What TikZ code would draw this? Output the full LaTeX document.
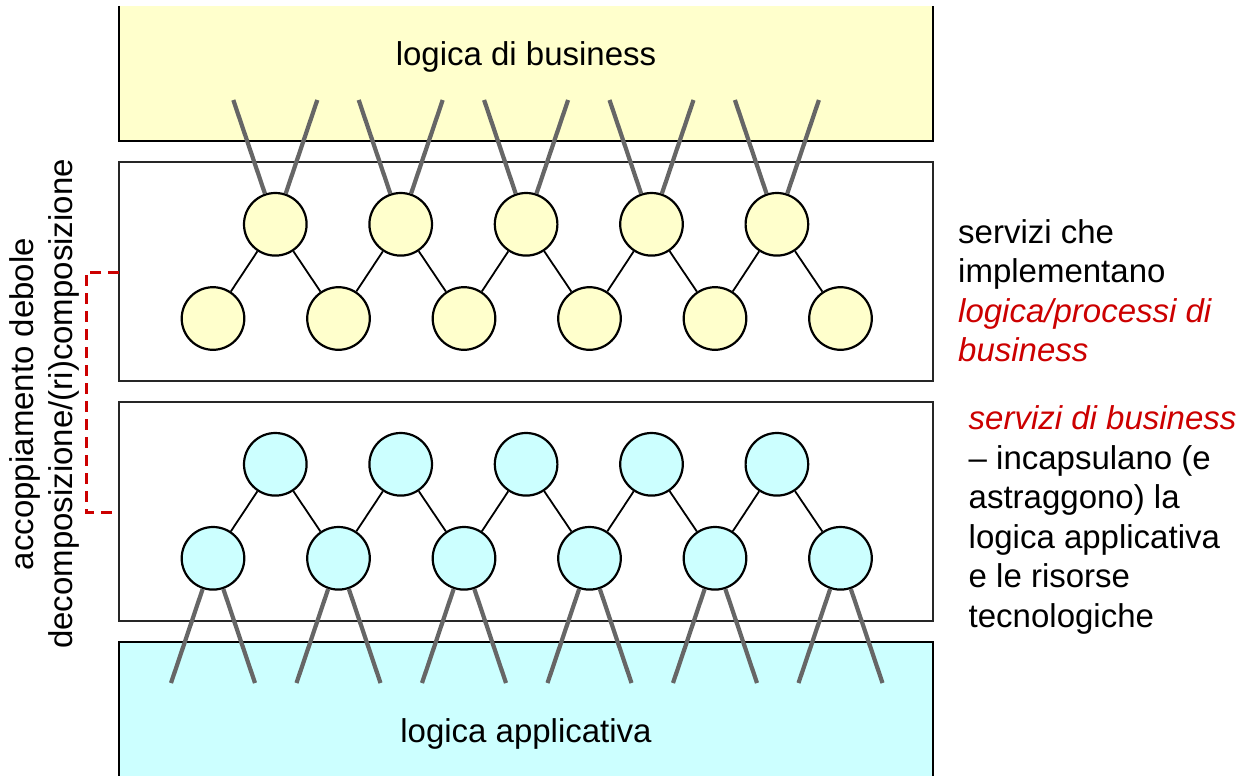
\documentclass[tikz,border=0pt]{standalone}
\usepackage{fontspec}
\setmainfont{Liberation Sans}
\definecolor{bizyellow}{HTML}{FFFFCC}
\definecolor{appcyan}{HTML}{CCFFFF}
\definecolor{accent}{HTML}{CC0000}
\definecolor{wire}{HTML}{666666}
\tikzset{
  svc/.style={circle, draw=black, line width=2.2pt, minimum size=62.6pt, inner sep=0pt},
  link/.style={draw=black, line width=1.8pt},
  plug/.style={draw=wire, line width=4.2pt},
  layer/.style={draw=black!85, line width=1.6pt},
  outer layer/.style={draw=black, line width=2.4pt},
  txt/.style={inner sep=0pt, font=\fontsize{33}{39.5}\selectfont},
  bracket/.style={draw=accent, line width=3pt, dash pattern=on 11pt off 7pt},
}
\begin{document}
\begin{tikzpicture}[x=1pt,y=-1pt]
\useasboundingbox (0,0) rectangle (1248,776);

% business logic layer (open at the top)
\fill[bizyellow] (119,6) rectangle (933,141);
\draw[outer layer] (119,6) -- (119,141) -- (933,141) -- (933,6);
\node[txt, anchor=base] (biz) at (526,66) {logica di business};

% application logic layer (open at the bottom)
\fill[appcyan] (119,642) rectangle (933,776);
\draw[outer layer] (119,776) -- (119,642) -- (933,642) -- (933,776);
\node[txt, anchor=base] (app) at (526,742) {logica applicativa};

% the two service layers
\draw[layer] (119,162) rectangle (933,381);
\draw[layer] (119,402) rectangle (933,621);

% process services
\foreach \i in {0,...,4}
  \node[svc, fill=bizyellow] (pt\i) at ({275.3+125.4*\i},224.3) {};
\foreach \i in {0,...,5}
  \node[svc, fill=bizyellow] (pb\i) at ({213+125.5*\i},318.5) {};
\foreach \i [count=\j from 1] in {0,...,4} {
  \draw[link] (pt\i) -- (pb\i);
  \draw[link] (pt\i) -- (pb\j);
}
\foreach \i in {0,...,4} {
  \coordinate (pl\i) at ({275.3+125.4*\i-42},100);
  \coordinate (pr\i) at ({275.3+125.4*\i+42},100);
  \draw[plug] (pl\i) -- (pt\i);
  \draw[plug] (pr\i) -- (pt\i);
}

% business services
\foreach \i in {0,...,4}
  \node[svc, fill=appcyan] (bt\i) at ({275.3+125.4*\i},464.3) {};
\foreach \i in {0,...,5}
  \node[svc, fill=appcyan] (bb\i) at ({213+125.5*\i},558.3) {};
\foreach \i [count=\j from 1] in {0,...,4} {
  \draw[link] (bt\i) -- (bb\i);
  \draw[link] (bt\i) -- (bb\j);
}
\foreach \i in {0,...,5} {
  \coordinate (ql\i) at ({213+125.5*\i-42},683);
  \coordinate (qr\i) at ({213+125.5*\i+42},683);
  \draw[plug] (bb\i) -- (ql\i);
  \draw[plug] (bb\i) -- (qr\i);
}

% loose coupling bracket
\coordinate (up) at (119,272);
\coordinate (down) at (119,512);
\draw[bracket] (up) -- ++(-33,0) |- (down);

\node[txt, rotate=90, anchor=base] (coupling) at (33,404)
  {\parbox[t]{520pt}{\centering accoppiamento debole\\decomposizione/(ri)composizione}};

% side notes
\node[txt, anchor=base west] (impl) at (958,243)
  {\parbox[t]{300pt}{\raggedright servizi che\\implementano\\\textcolor{accent}{\itshape logica/processi di\\business}}};
\node[txt, anchor=base west] (wrap) at (968.5,429.5)
  {\parbox[t]{300pt}{\raggedright\textcolor{accent}{\itshape servizi di business}\\-- incapsulano (e\\astraggono) la\\logica applicativa\\e le risorse\\tecnologiche}};
\end{tikzpicture}
\end{document}
